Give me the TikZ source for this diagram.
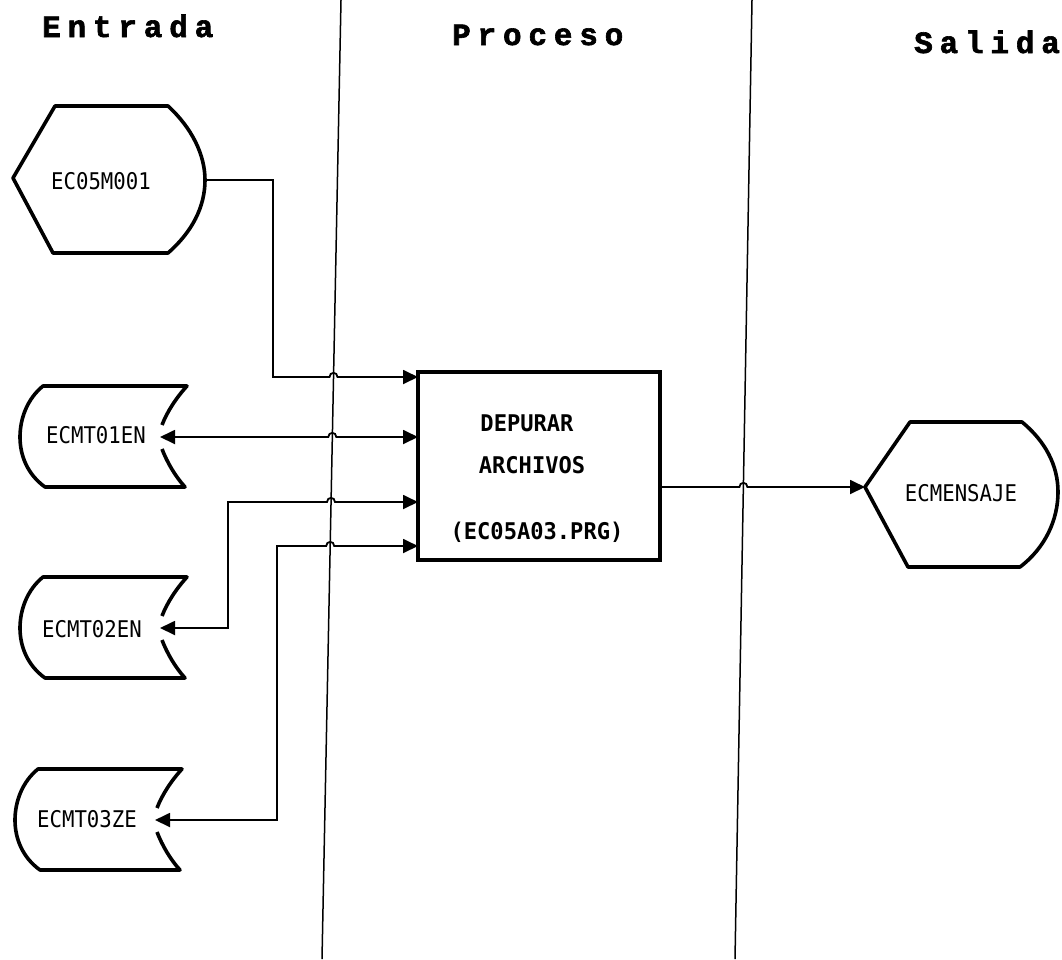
\documentclass[tikz,border=0pt]{standalone}
\usepackage{fontspec}
\usetikzlibrary{arrows.meta,calc}
\newfontfamily\headfont[LetterSpace=22,FakeBold=2]{Liberation Mono Bold}
\newfontfamily\plotfont[FakeStretch=0.9]{DejaVu Sans Mono}
\newfontfamily\plotboldfont[FakeStretch=0.96]{DejaVu Sans Mono Bold}
\begin{document}
\begin{tikzpicture}[x=1pt,y=-1pt,
  >={Triangle[length=15pt,width=14pt]},
  conn/.style={line width=1.8pt},
  sepline/.style={line width=1.5pt},
  shapeline/.style={line width=3.6pt,line join=round},
  lbl/.style={font=\plotfont\fontsize{23}{23}\selectfont,inner sep=0pt,anchor=base},
  boxlbl/.style={font=\plotboldfont\fontsize{23}{23}\selectfont,inner sep=0pt,anchor=base},
  hdr/.style={font=\headfont\fontsize{31}{31}\selectfont,inner sep=0pt,anchor=base west},
  storage/.pic={
    \draw[shapeline] (2,-12) .. controls (7,-25) and (16,-39) .. (27,-51)
      -- (-117,-51) .. controls (-133,-38) and (-140,-18) .. (-140,0)
      .. controls (-140,18) and (-133,37) .. (-115,50)
      -- (25,50) .. controls (15,39) and (7,25) .. (2,12);
  }]
\useasboundingbox (0,0) rectangle (1062,959);

% column separators
\coordinate (v1t) at (341,0);
\coordinate (v1b) at (322,959);
\coordinate (v2t) at (752,0);
\coordinate (v2b) at (735,959);
\draw[sepline] (v1t) -- (v1b);
\draw[sepline] (v2t) -- (v2b);

% headers
\node[hdr] (hin) at (42,37) {Entrada};
\node[hdr] (hproc) at (452,45) {Proceso};
\node[hdr] (hout) at (914,53) {Salida};

% input display EC05M001
\draw[shapeline] (13,178) -- (55,106) -- (168,106)
  .. controls (192,128) and (205,155) .. (205,180)
  .. controls (205,207) and (192,232) .. (168,253) -- (53,253) -- cycle;
\coordinate (m1e) at (205,180);
\node[lbl] (m1) at (101,189) {EC05M001};

% storage files
\coordinate (s1) at (160,437);
\pic at (s1) {storage};
\node[lbl] (t1) at (96,443) {ECMT01EN};
\coordinate (s2) at (160,628);
\pic at (s2) {storage};
\node[lbl] (t2) at (92,637) {ECMT02EN};
\coordinate (s3) at (155,820);
\pic at (s3) {storage};
\node[lbl] (t3) at (87,827) {ECMT03ZE};

% process box
\node[draw,line width=3.6pt,minimum width=242pt,minimum height=188pt,anchor=north west,inner sep=0pt,outer sep=0pt] (box) at (418,372) {};
\node[boxlbl] (p1) at (527,431) {DEPURAR};
\node[boxlbl] (p2) at (532,473) {ARCHIVOS};
\node[boxlbl] (p3) at (537,539) {(EC05A03.PRG)};

% output display ECMENSAJE
\draw[shapeline] (865,487) -- (910,422) -- (1022,422)
  .. controls (1045,441) and (1058,465) .. (1058,492)
  .. controls (1058,520) and (1045,548) .. (1020,567) -- (908,567) -- cycle;
\coordinate (msgw) at (865,487);
\node[lbl] (msg) at (961,501) {ECMENSAJE};

% connectors (with line hops over the separator)
\draw[conn,->] (m1e) -- (273,180) -- (273,377) -- (329.5,377)
  .. controls (329.5,371.5) and (337.5,371.5) .. (337.5,377)
  -- ($(box.north west)+(0,5)$);
\draw[conn,<->] (s1) -- (328.3,437)
  .. controls (328.3,431.5) and (336.3,431.5) .. (336.3,437)
  -- ($(box.north west)+(0,65)$);
\draw[conn,<->] (s2) -- (228,628) -- (228,502) -- (327,502)
  .. controls (327,496.5) and (335,496.5) .. (335,502)
  -- ($(box.north west)+(0,130)$);
\draw[conn,<->] (s3) -- (277,820) -- (277,546) -- (326.2,546)
  .. controls (326.2,540.5) and (334.2,540.5) .. (334.2,546)
  -- ($(box.north west)+(0,174)$);
\draw[conn,->] ($(box.south east)+(0,-73)$) -- (739.4,487)
  .. controls (739.4,481.5) and (747.4,481.5) .. (747.4,487)
  -- (msgw);
\end{tikzpicture}
\end{document}
